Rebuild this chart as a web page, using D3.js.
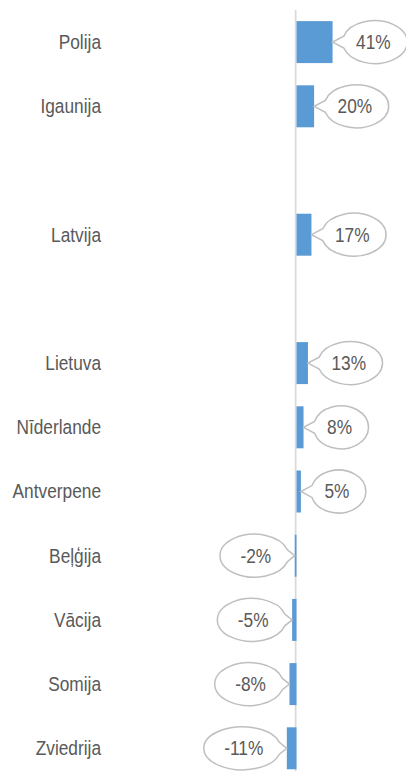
<!DOCTYPE html>
<html>
<head>
<meta charset="utf-8">
<script src="https://cdn.jsdelivr.net/npm/d3@7"></script>
<style>
  html, body { margin: 0; padding: 0; background: #ffffff; }
  svg text { font-family: "Liberation Sans", Arial, sans-serif; }
</style>
</head>
<body>
<svg id="chart"></svg>
<script>

// chart values (empty strings are the blank rows in the chart)
var g_vsCategories = ["Polija", "Igaunija", "", "Latvija", "", "Lietuva",
                      "Nīderlande", "Antverpene", "Beļģija", "Vācija", "Somija", "Zviedrija"];
var g_vfValues = [0.41, 0.20, null, 0.17, null, 0.13, 0.08, 0.05, -0.02, -0.05, -0.08, -0.11];

var g_nW = 406;
var g_nH = 771;

var g_colorBar = "#5B9BD5";
var g_colorText = "#595959";
var g_colorAxis = "#D9D9D9";
var g_colorCallout = "#BFBFBF";

// the original text is a bit stretched vertically
var g_fTextStretch = 1.15;

function funcTextTransform(nX, nY) {
	return "translate(" + nX + "," + nY + ") scale(1," + g_fTextStretch + ")";
}

function funcDrawChart() {

	var svg = d3.select("#chart")
				.attr("width", g_nW)
				.attr("height", g_nH);

	var nZeroX = 296.5;
	var nPxPerUnit = 88;   // px for 100%

	var x = d3.scaleLinear()
				.domain([-1, 1])
				.range([nZeroX - nPxPerUnit, nZeroX + nPxPerUnit]);

	var y = d3.scaleBand()
				.domain(d3.range(g_vsCategories.length))
				.range([10, 780.4])
				.paddingInner(0.346)
				.paddingOuter(0.173);

	var tjData = g_vsCategories.map(function(d, i) { return { name: d, value: g_vfValues[i], i: i }; });
	var tjBars = tjData.filter(function(d) { return d.value != null; });

	// plain hyphen for negatives, like the original
	var fmt = function(v) { return d3.format(".0%")(v).replace("\u2212", "-"); };

	// vertical zero line
	svg.append("line")
		.attr("x1", x(0) - 0.85)
		.attr("x2", x(0) - 0.85)
		.attr("y1", 10)
		.attr("y2", g_nH)
		.attr("stroke", g_colorAxis)
		.attr("stroke-width", 1.7);

	// category labels
	svg.selectAll("text.cat")
		.data(tjData.filter(function(d) { return d.name != ""; }))
		.enter()
		.append("text")
			.attr("class", "cat")
			.attr("transform", function(d) { return funcTextTransform(101, y(d.i) + y.bandwidth() / 2); })
			.attr("dy", "0.35em")
			.attr("text-anchor", "end")
			.attr("font-size", "17.3px")
			.attr("fill", g_colorText)
			.text(function(d) { return d.name; });

	// bars
	svg.selectAll("rect.bar")
		.data(tjBars)
		.enter()
		.append("rect")
			.attr("class", "bar")
			.attr("x", function(d) { return Math.min(x(0), x(d.value)); })
			.attr("y", function(d) { return y(d.i); })
			.attr("width", function(d) { return Math.abs(x(d.value) - x(0)); })
			.attr("height", y.bandwidth())
			.attr("fill", g_colorBar);

	// callouts (ellipse with a wedge pointing at the bar end)
	var gCallouts = svg.selectAll("g.callout")
		.data(tjBars)
		.enter()
		.append("g")
			.attr("class", "callout");

	gCallouts.each(function(d) {

		var g = d3.select(this);
		var nCy = y(d.i) + y.bandwidth() / 2;
		var nTipX = x(d.value);
		var nDir = d.value >= 0 ? 1 : -1;

		var domText = g.append("text")
			.attr("font-size", "17.3px")
			.attr("fill", g_colorText)
			.attr("text-anchor", "middle")
			.attr("dy", "0.35em")
			.text(fmt(d.value));

		var nTextW = domText.node().getComputedTextLength();
		var nRx = nTextW / 2 + (nDir > 0 ? 15 : 19);
		var nRy = 21.5;
		var nGap = nDir > 0 ? 10 : 6;
		var nCx = nTipX + nDir * (nGap + nRx);

		// wedge attaches at +/- fAng around the side facing the bar
		var fAng = 0.28;
		var nSideX = nCx - nDir * nRx * Math.cos(fAng);
		var nTopY = nCy - nRy * Math.sin(fAng);
		var nBotY = nCy + nRy * Math.sin(fAng);

		var sweep = nDir > 0 ? 1 : 0;
		var sPath = "M " + nSideX + " " + nTopY +
					" A " + nRx + " " + nRy + " 0 1 " + sweep + " " + nSideX + " " + nBotY +
					" L " + nTipX + " " + nCy + " Z";

		g.insert("path", "text")
			.attr("d", sPath)
			.attr("fill", "#ffffff")
			.attr("stroke", g_colorCallout)
			.attr("stroke-width", 1.5);

		domText.attr("transform", funcTextTransform(nCx - nDir * 1.5, nCy));
	});
}

funcDrawChart();

</script>
</body>
</html>
